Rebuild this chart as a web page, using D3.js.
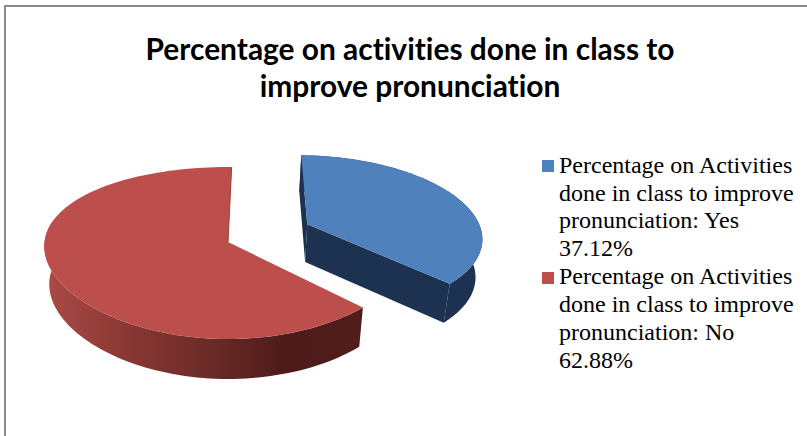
<!DOCTYPE html>
<html>
<head>
<meta charset="utf-8">
<style>
html,body{margin:0;padding:0;background:#fff;overflow:hidden}
svg{display:block}
</style>
<script src="https://cdn.jsdelivr.net/npm/d3@7"></script>
</head>
<body>
<svg id="chart" width="807" height="436"></svg>
<script>
const titleLines = ["Percentage on activities done in class to", "improve pronunciation"];
const categories = ["Yes", "No"];
const values = [37.12, 62.88];
const legendStem = ["Percentage on Activities", "done in class to improve", "pronunciation: "];

const topColors = ["#4f81bd", "#bc4f4c"];
const wallBlue = "#1d3250";
const svg = d3.select("#chart");

// Chart frame: only the top and left borders are drawn
svg.append("path").attr("d", "M5,436V6H807").attr("fill", "none")
  .attr("stroke", "#8c8c8c").attr("stroke-width", 2);

// Title
svg.append("g").selectAll("text").data(titleLines).join("text")
  .attr("x", 410).attr("y", (d, i) => 60 + i * 37)
  .attr("text-anchor", "middle")
  .style("font-variant-ligatures", "none")
  .attr("font-family", "Lato").attr("font-weight", 700).attr("font-size", 29.9)
  .attr("fill", "#000").text(d => d);

// Slice angles, clockwise from twelve o'clock
const pie = d3.pie().sort(null).value(d => d)
  .startAngle(1.2 * Math.PI / 180).endAngle((360 + 1.2) * Math.PI / 180);
const arcs = pie(values);

// Tilted-disc projection with a little perspective
const centerX = 228, centerY = 242, depth = 38;
const kY = 0.128;
const kX = [0.14, 0.05];
const radius = [0.965, 1];
const offset = [[0.445, -0.215], [0, 0]];
const scaleX = d3.scaleLinear().domain([0, 1]).range([0, 183.5]);
const scaleY = d3.scaleLinear().domain([0, 1]).range([0, 84.6]);
const baseX = d3.scaleLinear().domain([0, 1]).range([0, 0.973]);
const baseY = d3.scaleLinear().domain([0, 1]).range([0, 1.02]);

function project(i, px, py, lower) {
  let x = scaleX(px) / (1 - kX[i] * py);
  let y = scaleY(py) / (1 - kY * py);
  if (lower) { x = baseX(x); y = baseY(y) + depth; }
  return [centerX + x, centerY + y];
}
const rim = (d, angle, lower) => project(d.index,
  offset[d.index][0] + radius[d.index] * Math.sin(angle),
  offset[d.index][1] - radius[d.index] * Math.cos(angle), lower);
const apex = (d, lower) => project(d.index, offset[d.index][0], offset[d.index][1], lower);

const line = d3.line();
const steps = d => d3.range(0, 1.0001, 1 / 120).map(t => d.startAngle + t * (d.endAngle - d.startAngle));

// Side wall shading on the red slice
const defs = svg.append("defs");
const grad = defs.append("linearGradient").attr("id", "redWall")
  .attr("gradientUnits", "userSpaceOnUse").attr("x1", 43).attr("x2", 364).attr("y1", 0).attr("y2", 0);
[[0, "#ab4b47"], [0.25, "#8b3834"], [0.5, "#6d2c29"], [0.76, "#4c1b19"], [1, "#511d1b"]]
  .forEach(([o, c]) => grad.append("stop").attr("offset", o).attr("stop-color", c));

const slices = svg.append("g").selectAll("g").data(arcs).join("g");

// Side walls: radial faces on the blue slice, then the outer rim where it faces the viewer
slices.each(function(d) {
  const g = d3.select(this);
  if (d.index === 0) {
    [d.startAngle, d.endAngle].forEach(a => {
      g.append("path").attr("fill", wallBlue).attr("d", line([
        apex(d, false), rim(d, a, false), rim(d, a, true), apex(d, true)]) + "Z");
    });
  }
  const as = steps(d).filter(a => d.index === 0 || a < 285 * Math.PI / 180);
  const poly = as.map(a => rim(d, a, false)).concat(as.slice().reverse().map(a => rim(d, a, true)));
  g.append("path").attr("fill", d.index === 0 ? wallBlue : "url(#redWall)").attr("d", line(poly) + "Z");
});

// Top faces
slices.append("path").attr("fill", d => topColors[d.index])
  .attr("d", d => line([apex(d, false)].concat(steps(d).map(a => rim(d, a, false)))) + "Z");

// Thin shaded edge where the red slice faces the gap
slices.filter(d => d.index === 1).append("path")
  .attr("fill", "none").attr("stroke", "#9a3f3c").attr("stroke-width", 1)
  .attr("d", d => line([rim(d, d.endAngle, false), apex(d, false)]));

// Legend
const legend = svg.append("g").selectAll("g").data(categories).join("g");
legend.append("rect").attr("x", 542).attr("y", (d, i) => 160 + i * 112)
  .attr("width", 12).attr("height", 12).attr("fill", (d, i) => topColors[i]);
legend.each(function(cat, i) {
  const rows = legendStem.map((s, j) => j === 2 ? s + cat : s).concat(values[i].toFixed(2) + "%");
  d3.select(this).selectAll("text").data(rows).join("text")
    .attr("x", 559).attr("y", (d, j) => 172.7 + i * 111.6 + j * 27.8)
    .attr("font-family", "Liberation Serif").attr("font-size", 24)
    .attr("fill", "#000").text(d => d);
});
</script>
</body>
</html>
